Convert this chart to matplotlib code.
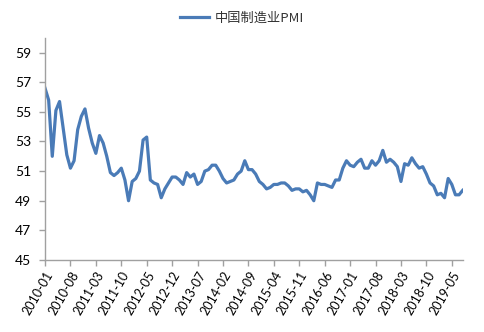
import numpy as np
import matplotlib
matplotlib.use('Agg')
import matplotlib.pyplot as plt

plt.rcParams['font.family'] = ['Lato', 'Noto Sans CJK SC', 'DejaVu Sans']

# monthly values, first point is labelled 2010-01
pmi = [56.6,
       55.8, 52.0, 55.1, 55.7, 53.9, 52.1, 51.2, 51.7, 53.8, 54.7, 55.2, 53.9,
       52.9, 52.2, 53.4, 52.9, 52.0, 50.9, 50.7, 50.9, 51.2, 50.4, 49.0, 50.3,
       50.5, 51.0, 53.1, 53.3, 50.4, 50.2, 50.1, 49.2, 49.8, 50.2, 50.6, 50.6,
       50.4, 50.1, 50.9, 50.6, 50.8, 50.1, 50.3, 51.0, 51.1, 51.4, 51.4, 51.0,
       50.5, 50.2, 50.3, 50.4, 50.8, 51.0, 51.7, 51.1, 51.1, 50.8, 50.3, 50.1,
       49.8, 49.9, 50.1, 50.1, 50.2, 50.2, 50.0, 49.7, 49.8, 49.8, 49.6, 49.7,
       49.4, 49.0, 50.2, 50.1, 50.1, 50.0, 49.9, 50.4, 50.4, 51.2, 51.7, 51.4,
       51.3, 51.6, 51.8, 51.2, 51.2, 51.7, 51.4, 51.7, 52.4, 51.6, 51.8, 51.6,
       51.3, 50.3, 51.5, 51.4, 51.9, 51.5, 51.2, 51.3, 50.8, 50.2, 50.0, 49.4,
       49.5, 49.2, 50.5, 50.1, 49.4, 49.4, 49.7]

months = []
for i in range(len(pmi)):
    y = 2010 + i // 12
    m = i % 12 + 1
    months.append(f"{y}-{m:02d}")

yticks = [45, 47, 49, 51, 53, 55, 57, 59]
label_step = 7

color = '#4a7bb7'
axis_color = '#a0a0a0'

fig = plt.figure(figsize=(4.84, 3.32), dpi=100)
ax = fig.add_axes([0.093, 0.217, 0.863, 0.669])

x = np.arange(len(pmi))
ax.plot(x, pmi, color=color, lw=2.3, solid_joinstyle='round', label='中国制造业PMI')

ax.set_xlim(0, len(pmi) - 1)
ax.set_ylim(45, 60)
ax.set_yticks(yticks)
ax.set_yticklabels([str(v) for v in yticks], fontsize=10)

tick_pos = x[::label_step]
ax.set_xticks(tick_pos)
ax.set_xticklabels([months[i] for i in tick_pos], rotation=60, ha='right',
                   rotation_mode='anchor', fontsize=9)

for side in ['top', 'right']:
    ax.spines[side].set_visible(False)
for side in ['left', 'bottom']:
    ax.spines[side].set_color(axis_color)
    ax.spines[side].set_linewidth(1)
ax.tick_params(axis='both', direction='out', length=4, color=axis_color, width=1)
ax.tick_params(axis='y', pad=6)
ax.tick_params(axis='x', pad=3)

leg = fig.legend(loc='upper center', bbox_to_anchor=(0.5, 1.0), frameon=False,
                 fontsize=9.5, handlelength=2.2, handletextpad=0.4)
for t in leg.get_texts():
    t.set_family(['Noto Sans CJK SC', 'DejaVu Sans'])
    t.set_color('#333333')

fig.savefig('out.png', dpi=100)
